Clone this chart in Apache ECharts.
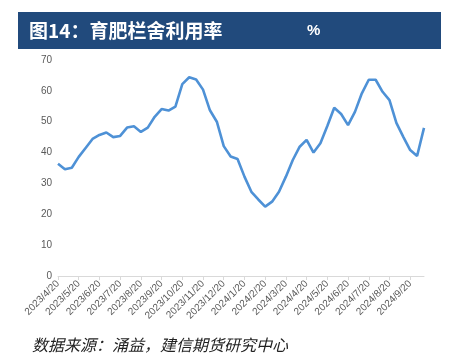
<!DOCTYPE html>
<html>
<head>
<meta charset="utf-8">
<script src="https://cdn.jsdelivr.net/npm/echarts@6/dist/echarts.min.js"></script>
<style>
html,body{margin:0;padding:0;background:#fff;}
#chart{width:450px;height:364px;}
</style>
</head>
<body>
<div id="chart"></div>
<script>
// Tick labels (one per month, every 3rd data point)
const tickLabels = ["2023/4/20","2023/5/20","2023/6/20","2023/7/20","2023/8/20","2023/9/20",
  "2023/10/20","2023/11/20","2023/12/20","2024/1/20","2024/2/20","2024/3/20",
  "2024/4/20","2024/5/20","2024/6/20","2024/7/20","2024/8/20","2024/9/20"];

// Categories: ten-day data points (20th, 30th/end, 10th)
const categories = ["2023/4/20","2023/4/30","2023/5/10","2023/5/20","2023/5/30","2023/6/10",
  "2023/6/20","2023/6/30","2023/7/10","2023/7/20","2023/7/30","2023/8/10",
  "2023/8/20","2023/8/30","2023/9/10","2023/9/20","2023/9/30","2023/10/10",
  "2023/10/20","2023/10/30","2023/11/10","2023/11/20","2023/11/30","2023/12/10",
  "2023/12/20","2023/12/30","2024/1/10","2024/1/20","2024/1/30","2024/2/10",
  "2024/2/20","2024/2/29","2024/3/10","2024/3/20","2024/3/30","2024/4/10",
  "2024/4/20","2024/4/30","2024/5/10","2024/5/20","2024/5/30","2024/6/10",
  "2024/6/20","2024/6/30","2024/7/10","2024/7/20","2024/7/30","2024/8/10",
  "2024/8/20","2024/8/30","2024/9/10","2024/9/20","2024/9/30","2024/10/10"];

// 育肥栏舍利用率 (%)
const utilization = [36.4,34.6,35.1,38.6,41.5,44.4,45.7,46.5,45.0,45.4,
  48.1,48.5,46.7,48.1,51.6,54.1,53.6,54.9,62.2,64.4,
  63.7,60.4,53.7,50.0,42.1,38.7,37.9,32.2,27.3,24.8,
  22.5,24.1,27.3,32.2,37.6,41.9,44.1,40.0,43.0,48.6,
  54.5,52.5,48.9,53.2,59.2,63.6,63.6,59.7,57.0,49.6,
  45.1,40.8,38.9,48.0];

const yTicks = [0,10,20,30,40,50,60,70];

const chart = echarts.init(document.getElementById('chart'), null, {renderer:'canvas'});
const tickSet = new Set(tickLabels);

chart.setOption({
  animation:false,
  backgroundColor:'#ffffff',
  grid:{left:58,right:26,top:60,bottom:88,containLabel:false},
  xAxis:{
    type:'category',
    data:categories,
    boundaryGap:false,
    axisLine:{lineStyle:{color:'#d9d9d9',width:1}},
    axisTick:{show:true,interval:(i,v)=>tickSet.has(v),length:4,lineStyle:{color:'#d9d9d9'}},
    axisLabel:{
      interval:(i,v)=>tickSet.has(v),
      rotate:45,
      fontSize:10,
      color:'#595959',
      fontFamily:'Liberation Sans',
      margin:6
    },
    splitLine:{show:false}
  },
  yAxis:{
    type:'value',
    min:yTicks[0],
    max:yTicks[yTicks.length-1],
    interval:10,
    axisLine:{show:false},
    axisTick:{show:false},
    splitLine:{show:false},
    axisLabel:{fontSize:10,color:'#595959',fontFamily:'Liberation Sans',margin:6}
  },
  series:[{
    type:'line',
    data:utilization,
    symbol:'none',
    lineStyle:{color:'#4e91d6',width:2.6},
    smooth:false
  }],
  graphic:[
    {type:'rect',shape:{x:18,y:12,width:423,height:37},style:{fill:'#214a7c'},z:10},
    {type:'text',x:29,y:30.5,style:{text:'图14：育肥栏舍利用率',fill:'#ffffff',
      font:'bold 19px "Noto Sans CJK SC"',textVerticalAlign:'middle'},z:11},
    {type:'text',x:307,y:30.5,style:{text:'%',fill:'#ffffff',
      font:'bold 15px "Liberation Sans"',textVerticalAlign:'middle'},z:11},
    {type:'text',x:32,y:345,style:{text:'数据来源：涌益，建信期货研究中心',fill:'#222222',
      font:'italic 16px "Noto Sans CJK SC"',textVerticalAlign:'middle'},z:11}
  ]
});
</script>
</body>
</html>
